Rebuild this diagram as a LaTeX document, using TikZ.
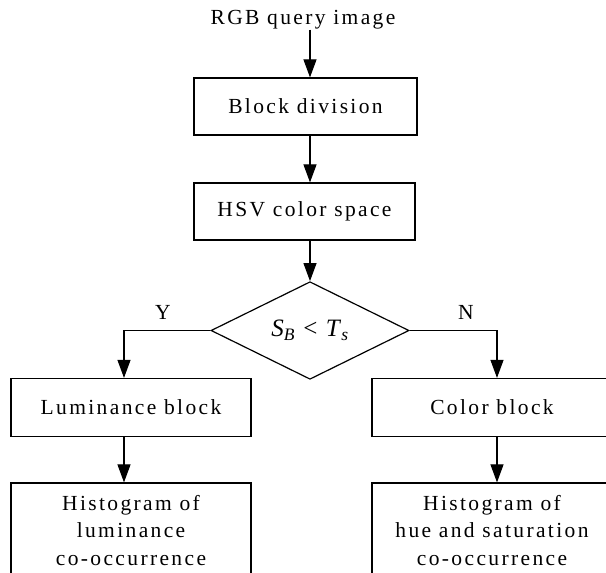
\documentclass[tikz,border=0pt]{standalone}
\usepackage{fontspec}
\setmainfont[LetterSpace=11]{Liberation Serif}
\newfontfamily\mathlike{Liberation Serif}
\usetikzlibrary{shapes.geometric,arrows.meta}

\tikzset{
  box/.style={draw, line width=1.2pt, minimum width=222pt, minimum height=57pt,
              inner sep=0pt, align=center},
  decision/.style={draw, diamond, line width=1.2pt, minimum width=198pt,
                   minimum height=87pt, inner sep=0pt},
  link/.style={line width=1.1pt, -{Triangle[width=13pt,length=18pt]}},
  tag/.style={inner sep=0pt}
}

\begin{document}
\begin{tikzpicture}[x=1pt, y=-1pt, font=\fontsize{21.5}{27.5}\selectfont]
  \useasboundingbox (0,0) rectangle (606,573);
  \clip (0,0) rectangle (606,573);

  % main column
  \node[tag] (rgb) at (303,20) {RGB query image};
  \node[box, minimum width=223pt] (bd) at (305.5,106.5) {Block division};
  \node[box, minimum width=221pt] (hsv) at (304.5,211.5) {HSV color space};
  \node[decision] (dec) at (310,330.5)
    {\mathlike\fontsize{25}{26}\selectfont\textit{S}\textsubscript{\textit{B}}\,\,<\,\,\textit{T}\textsubscript{\textit{s}}};

  % two branches
  \node[box, minimum width=240pt, minimum height=58pt] (lum) at (131,407.5) {Luminance block};
  \node[box, minimum width=240pt, minimum height=58pt] (col) at (492,407.5) {Color block};
  \node[box, minimum width=240pt, minimum height=95pt] (hl) at (131,530.5)
    {Histogram of\\luminance\\co-occurrence};
  \node[box, minimum width=240pt, minimum height=95pt] (hc) at (492,530.5)
    {Histogram of\\hue and saturation\\co-occurrence};

  % branch labels
  \node[tag] (yes) at (163,312) {Y};
  \node[tag] (no) at (466,312) {N};

  % connectors
  \draw[link] (rgb.south -| dec.north) -- (bd.north -| dec.north);
  \draw[link] (bd.south -| dec.north) -- (hsv.north -| dec.north);
  \draw[link] (hsv.south -| dec.north) -- (dec.north);
  \draw[link] (dec.west) -| ([xshift=-7pt]lum.north);
  \draw[link] (dec.east) -| ([xshift=5pt]col.north);
  \draw[link] ([xshift=-7pt]lum.south) -- ([xshift=-7pt]hl.north);
  \draw[link] ([xshift=5pt]col.south) -- ([xshift=5pt]hc.north);
\end{tikzpicture}
\end{document}
